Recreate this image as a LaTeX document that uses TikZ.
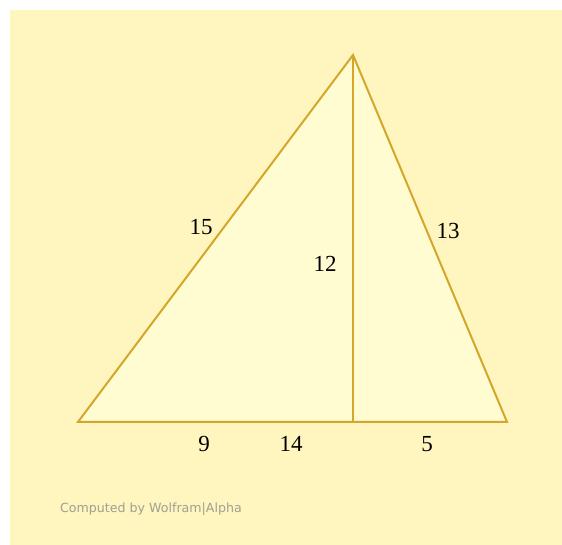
\documentclass[tikz,border=0pt]{standalone}
\usepackage{fontspec}
\setmainfont{Liberation Serif}
\newfontfamily\wasans{DejaVu Sans}
\definecolor{bgyellow}{HTML}{FFF5BF}
\definecolor{trifill}{HTML}{FFFCD2}
\definecolor{edgegold}{HTML}{D4A62A}
\definecolor{credgray}{HTML}{A09F92}
\tikzset{
  sidelabel/.style={font=\fontsize{23}{25}\selectfont, text=black, inner sep=0pt},
  credit/.style={font=\wasans\fontsize{12.6}{14}\selectfont, text=credgray, inner sep=0pt, anchor=west},
  edge/.style={draw=edgegold, line width=2pt, line join=miter},
  altitude/.style={draw=edgegold, line width=1.2pt}
}
\begin{document}
\begin{tikzpicture}[x=1pt,y=1pt]
\useasboundingbox (0,0) rectangle (562,545);
\fill[bgyellow] (10,0) rectangle (562,535);
\coordinate (A) at (78,123);
\coordinate (B) at (507,123);
\coordinate (C) at (353,490);
\coordinate (H) at (353,123);
\fill[trifill] (A) -- (B) -- (C) -- cycle;
\draw[altitude] (C) -- (H);
\draw[edge] (A) -- (B) -- (C) -- cycle;
\node[sidelabel] (l15) at (201,318) {15};
\node[sidelabel] (l12) at (325,281) {12};
\node[sidelabel] (l13) at (448,314) {13};
\node[sidelabel] (l9) at (204,101) {9};
\node[sidelabel] (l14) at (291,101) {14};
\node[sidelabel] (l5) at (427,101) {5};
\node[credit] (cred) at (60,36) {Computed by Wolfram|Alpha};
\end{tikzpicture}
\end{document}
